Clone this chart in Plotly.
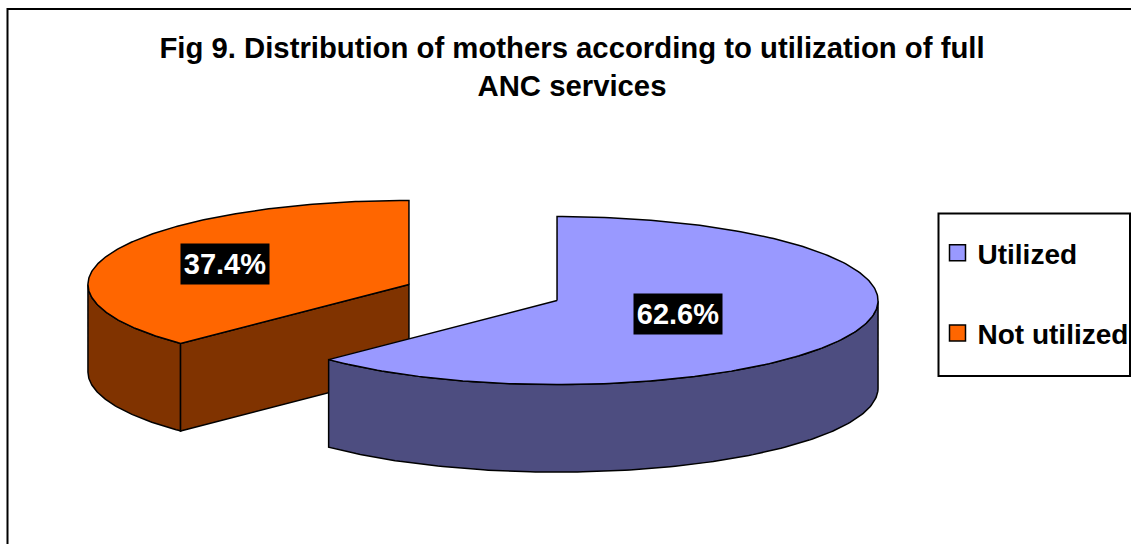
import numpy as np
import plotly.graph_objects as go

categories = ["Utilized", "Not utilized"]
values = [62.6, 37.4]
top_colors = ["#9999FF", "#FF6600"]
side_colors = ["#4D4D80", "#803300"]
labels = ["62.6%", "37.4%"]
title_text = "<b>Fig 9. Distribution of mothers according to utilization of full<br>ANC services</b>"

W, H = 1131, 544
CX, CY, RX, RY, DEPTH = 483, 292.5, 321, 84, 87.5
EXPLODE = 0.25
LABEL_FRAC = [0.41, 0.62]
FONT = "Liberation Sans"

fig = go.Figure()
shares = np.array(values) / sum(values)
starts = np.concatenate([[0], np.cumsum(shares)[:-1]]) * 2 * np.pi
ends = np.cumsum(shares) * 2 * np.pi
line = dict(color="black", width=1.5)


def pt(cx, cy, a):
    return cx + RX * np.sin(a), cy - RY * np.cos(a)


annots = []
geom = []
for i in range(len(values)):
    mid = (starts[i] + ends[i]) / 2
    cx = CX + EXPLODE * RX * np.sin(mid)
    cy = CY - EXPLODE * RY * np.cos(mid)
    geom.append((i, cx, cy, mid))

# back slice (Not utilized) first, then the front slice
for i, cx, cy, mid in sorted(geom, key=lambda g: g[2]):
    a = np.linspace(starts[i], ends[i], 240)
    ex, ey = pt(cx, cy, a)
    # rim wall: only the part of the rim facing the viewer
    vis = np.cos(a) <= 0
    rx_, ry_ = ex[vis], ey[vis]
    fig.add_trace(go.Scatter(
        x=np.r_[rx_, rx_[::-1], rx_[0]], y=np.r_[ry_, ry_[::-1] + DEPTH, ry_[0]],
        mode="lines", fill="toself", fillcolor=side_colors[i], line=line,
        showlegend=False, hoverinfo="skip"))
    # cut wall: the radial edge that faces the viewer
    if i == 1:
        sx, sy = ex[0], ey[0]
        fig.add_trace(go.Scatter(
            x=[sx, cx, cx, sx, sx], y=[sy, cy, cy + DEPTH, sy + DEPTH, sy],
            mode="lines", fill="toself", fillcolor=side_colors[i], line=line,
            showlegend=False, hoverinfo="skip"))
    fig.add_trace(go.Scatter(
        x=np.r_[cx, ex, cx], y=np.r_[cy, ey, cy],
        mode="lines", fill="toself", fillcolor=top_colors[i], line=line,
        showlegend=False, hoverinfo="skip"))
    lx = cx + LABEL_FRAC[i] * RX * np.sin(mid)
    ly = cy - LABEL_FRAC[i] * RY * np.cos(mid)
    annots.append(dict(x=lx, y=ly, xref="x", yref="y", text=f"<b>{labels[i]}</b>", showarrow=False,
                       bgcolor="black", width=88, height=40, borderpad=0,
                       font=dict(family=FONT, size=29, color="white")))

for i, c in enumerate(categories):
    fig.add_trace(go.Scatter(
        x=[None], y=[None], mode="markers", name=f"<b>{c}</b>", legendgroup=c,
        marker=dict(symbol="square", size=16, color=top_colors[i], line=dict(color="black", width=1.5))))

fig.update_layout(
    width=W, height=H, autosize=False,
    margin=dict(l=0, r=0, t=0, b=0, autoexpand=False),
    paper_bgcolor="white", plot_bgcolor="white",
    xaxis=dict(range=[0, W], visible=False, fixedrange=True),
    yaxis=dict(range=[H, 0], visible=False, fixedrange=True),
    title=dict(text=title_text, x=572 / W, xanchor="center", y=1 - 58 / H, yanchor="middle", yref="container",
               font=dict(family=FONT, size=29.3, color="black")),
    legend=dict(x=937.5 / W, xanchor="left", y=1 - 228 / H, yanchor="top",
                bgcolor="rgba(0,0,0,0)", borderwidth=0,
                tracegroupgap=41, font=dict(family=FONT, size=28, color="black"), itemclick=False, itemdoubleclick=False),
    annotations=annots,
    shapes=[dict(type="path", path=f"M 7.5 {H} L 7.5 9 L {W} 9", xref="x", yref="y",
                 line=dict(color="black", width=2), layer="below"),
            dict(type="rect", x0=938.5, x1=1130, y0=213.5, y1=376, xref="x", yref="y",
                 line=dict(color="black", width=2), fillcolor="white", layer="below")],
)
fig.write_html("out.html", config={"displayModeBar": False},
               post_script="document.body.style.margin='0';document.body.style.overflow='hidden';")
